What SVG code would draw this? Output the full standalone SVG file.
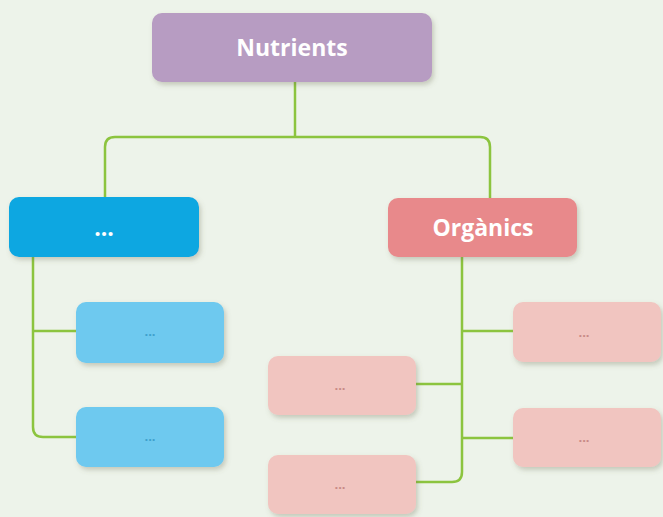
<svg xmlns="http://www.w3.org/2000/svg" width="663" height="517" viewBox="0 0 663 517">
<defs>
<filter id="sh" x="-10%" y="-10%" width="125%" height="135%">
<feDropShadow dx="2" dy="3" stdDeviation="2.5" flood-color="#6a6a50" flood-opacity="0.3"/>
</filter>
</defs>
<style>
.bg{fill:#edf3ea}
.conn path{fill:none;stroke:#8cc43f;stroke-width:2.5}
.box{filter:url(#sh)}
.purple{fill:#b79cc2}
.blue{fill:#0fa7e1}
.lblue{fill:#6ec9ef}
.red{fill:#e8898b}
.pink{fill:#f1c5c0}
.t{font-family:"Open Sans",Lato,sans-serif;font-weight:bold;text-anchor:middle}
.big{font-size:23px;fill:#ffffff}
.dots{font-size:13px}
</style>
<rect class="bg" width="663" height="517"/>
<g id="connectors" class="conn">
<path d="M295,82 V137"/>
<path d="M105,198 V147 Q105,137 115,137 H480 Q490,137 490,147 V198"/>
<path d="M33,257 V427 Q33,437 43,437 H76"/>
<path d="M33,331 H76"/>
<path d="M462,257 V472 Q462,482 452,482 H416"/>
<path d="M462,331 H513"/>
<path d="M462,438 H513"/>
<path d="M462,384 H416"/>
</g>
<g id="nutrients">
<rect class="box purple" x="152" y="13" width="280" height="69" rx="10"/>
<text class="t big" x="292" y="56">Nutrients</text>
</g>
<g id="left-main">
<rect class="box blue" x="9" y="197" width="190" height="60" rx="10"/>
<text class="t big" x="104" y="236">...</text>
</g>
<g id="left-sub1">
<rect class="box lblue" x="76" y="302" width="148" height="61" rx="10"/>
<text class="t dots" x="150" y="336" fill="#3ea0cc">...</text>
</g>
<g id="left-sub2">
<rect class="box lblue" x="76" y="407" width="148" height="60" rx="10"/>
<text class="t dots" x="150" y="441" fill="#3ea0cc">...</text>
</g>
<g id="organics">
<rect class="box red" x="388" y="198" width="189" height="59" rx="10"/>
<text class="t big" x="483" y="236">Orgànics</text>
</g>
<g id="org-r1">
<rect class="box pink" x="513" y="302" width="148" height="60" rx="10"/>
<text class="t dots" x="584" y="337" fill="#c88a86">...</text>
</g>
<g id="org-r2">
<rect class="box pink" x="513" y="408" width="148" height="59" rx="10"/>
<text class="t dots" x="584" y="442" fill="#c88a86">...</text>
</g>
<g id="org-l1">
<rect class="box pink" x="268" y="356" width="148" height="59" rx="10"/>
<text class="t dots" x="340" y="390" fill="#c88a86">...</text>
</g>
<g id="org-l2">
<rect class="box pink" x="268" y="455" width="148" height="59" rx="10"/>
<text class="t dots" x="340" y="489" fill="#c88a86">...</text>
</g>
</svg>
